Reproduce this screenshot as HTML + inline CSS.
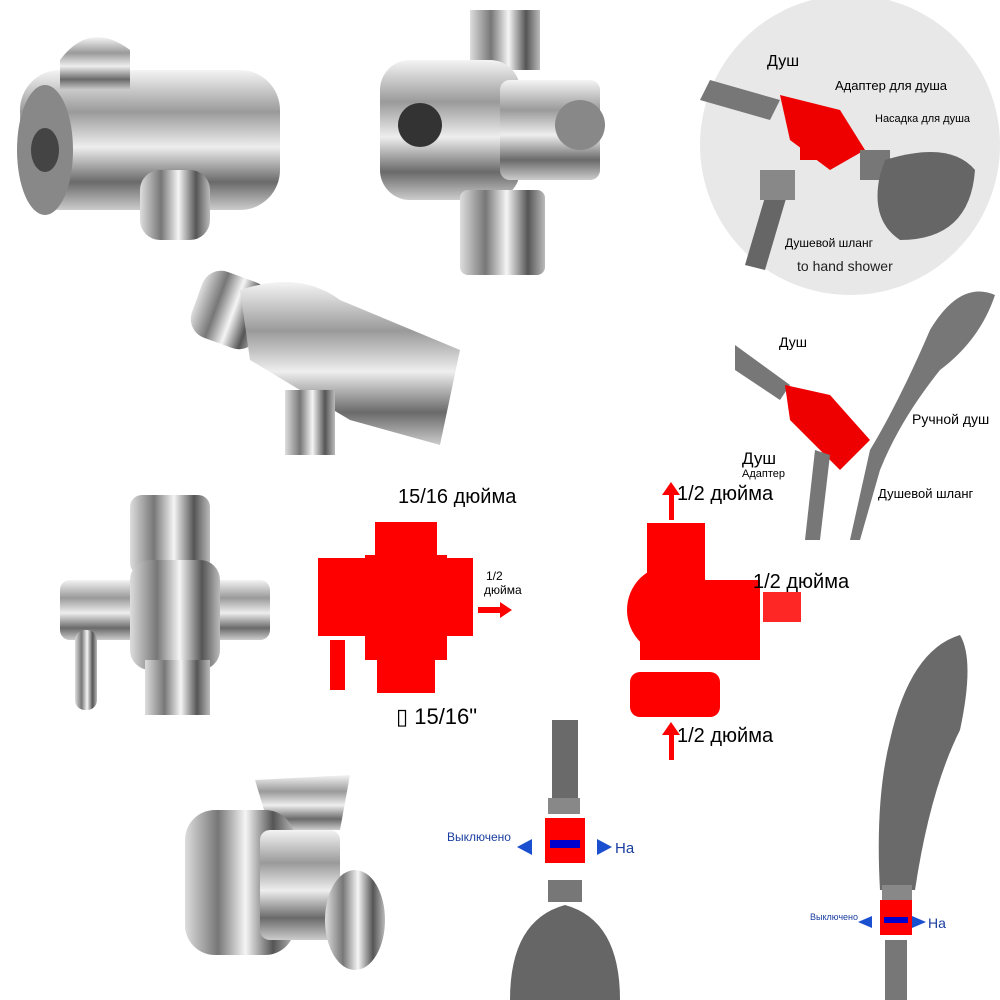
<!DOCTYPE html>
<html><head><meta charset="utf-8"><style>
html,body{margin:0;padding:0;background:#fff;width:1000px;height:1000px;overflow:hidden}
svg text{font-family:"Liberation Sans","DejaVu Sans",sans-serif}
</style></head><body>
<svg width="1000" height="1000" viewBox="0 0 1000 1000" xmlns="http://www.w3.org/2000/svg">
<defs>
<linearGradient id="ch" x1="0" y1="0" x2="0" y2="1"><stop offset="0" stop-color="#f4f4f4"/><stop offset="0.3" stop-color="#9a9a9a"/><stop offset="0.55" stop-color="#eee"/><stop offset="0.8" stop-color="#6a6a6a"/><stop offset="1" stop-color="#ccc"/></linearGradient>
<linearGradient id="chv" x1="0" y1="0" x2="1" y2="0"><stop offset="0" stop-color="#ddd"/><stop offset="0.3" stop-color="#777"/><stop offset="0.55" stop-color="#f5f5f5"/><stop offset="0.8" stop-color="#555"/><stop offset="1" stop-color="#bbb"/></linearGradient>
</defs>
<!-- top-left holder -->
<rect x="20" y="70" width="260" height="140" rx="40" fill="url(#ch)"/>
<ellipse cx="45" cy="150" rx="28" ry="65" fill="#888"/><ellipse cx="45" cy="150" rx="14" ry="22" fill="#444"/>
<path d="M60 60 Q90 20 130 50 L130 90 L60 90Z" fill="url(#ch)"/>
<rect x="140" y="170" width="70" height="70" rx="20" fill="url(#chv)"/>
<!-- top-middle tee -->
<rect x="470" y="10" width="70" height="60" fill="url(#chv)"/>
<rect x="380" y="60" width="140" height="140" rx="30" fill="url(#ch)"/>
<circle cx="420" cy="125" r="22" fill="#333"/>
<rect x="500" y="80" width="100" height="100" rx="10" fill="url(#ch)"/>
<circle cx="580" cy="125" r="25" fill="#888"/>
<rect x="460" y="190" width="85" height="85" rx="8" fill="url(#chv)"/>
<!-- top-right circle -->
<circle cx="850" cy="145" r="150" fill="#e8e8e8"/>
<path d="M710 80 L780 100 L770 120 L700 100Z" fill="#777"/>
<path d="M780 95 L840 110 L865 150 L830 170 L790 140Z" fill="#e00"/>
<rect x="800" y="120" width="40" height="40" fill="#e00"/>
<path d="M770 180 L745 265 L765 270 L790 185Z" fill="#666"/>
<rect x="760" y="170" width="35" height="30" fill="#888"/>
<rect x="860" y="150" width="30" height="30" fill="#777"/>
<path d="M885 160 Q950 140 975 170 Q970 240 900 240 Q870 220 880 175Z" fill="#666"/>
<text x="767" y="66" font-size="16">Душ</text>
<text x="835" y="90" font-size="13">Адаптер для душа</text>
<text x="875" y="122" font-size="11">Насадка для душа</text>
<text x="785" y="247" font-size="12">Душевой шланг</text>
<text x="797" y="271" font-size="14" fill="#222">to hand shower</text>
<!-- middle holder -->
<rect x="195" y="275" width="70" height="70" rx="20" fill="url(#chv)" transform="rotate(20 230 310)"/>
<path d="M240 290 Q300 270 340 300 L460 350 L440 445 L350 420 L250 360Z" fill="url(#ch)"/>
<rect x="285" y="390" width="50" height="65" fill="url(#chv)"/>
<!-- right top hand shower diagram -->
<path d="M735 345 L790 385 L780 400 L735 370Z" fill="#777"/>
<path d="M785 385 L830 395 L870 440 L840 470 L790 420Z" fill="#e00"/>
<path d="M815 450 L805 540 L820 540 L830 455Z" fill="#777"/>
<path d="M870 450 Q900 400 930 330 Q960 280 995 295 Q980 340 940 370 Q900 420 880 470 L860 540 L850 540Z" fill="#777"/>
<text x="779" y="347" font-size="14">Душ</text>
<text x="912" y="424" font-size="14">Ручной душ</text>
<text x="742" y="464" font-size="17">Душ</text>
<text x="742" y="477" font-size="11">Адаптер</text>
<text x="878" y="498" font-size="13">Душевой шланг</text>
<!-- left tee -->
<rect x="130" y="495" width="80" height="80" rx="12" fill="url(#chv)"/>
<rect x="60" y="580" width="210" height="60" rx="10" fill="url(#ch)"/>
<rect x="130" y="560" width="90" height="110" rx="20" fill="url(#chv)"/>
<rect x="145" y="660" width="65" height="55" fill="url(#chv)"/>
<rect x="75" y="630" width="22" height="80" rx="10" fill="url(#chv)"/>
<!-- red diagram 1 -->
<g fill="#f00">
<rect x="375" y="522" width="62" height="40"/>
<rect x="318" y="558" width="155" height="78"/>
<rect x="365" y="555" width="82" height="105"/>
<rect x="377" y="655" width="58" height="38"/>
<rect x="452" y="585" width="20" height="50"/>
<rect x="330" y="640" width="15" height="50"/>
<path d="M478 607 L500 607 L500 602 L512 610 L500 618 L500 613 L478 613Z"/>
</g>
<text x="398" y="503" font-size="20">15/16 дюйма</text>
<text x="486" y="580" font-size="12">1/2</text>
<text x="484" y="594" font-size="12">дюйма</text>
<text x="396" y="724" font-size="22">▯ 15/16"</text>
<!-- red diagram 2 -->
<g fill="#f00">
<rect x="647" y="523" width="58" height="62"/>
<rect x="640" y="580" width="120" height="80"/>
<circle cx="672" cy="610" r="45"/>
<rect x="630" y="672" width="90" height="45" rx="10"/>
<rect x="763" y="592" width="38" height="30" opacity="0.85"/>
<rect x="669" y="490" width="5" height="30"/><path d="M662 495 L671 482 L680 495Z"/>
<rect x="669" y="730" width="5" height="30"/><path d="M662 735 L671 722 L680 735Z"/>
</g>
<text x="677" y="500" font-size="20">1/2 дюйма</text>
<text x="753" y="588" font-size="20">1/2 дюйма</text>
<text x="677" y="742" font-size="20">1/2 дюйма</text>
<!-- valve -->
<path d="M255 780 L350 775 L340 830 L270 830Z" fill="url(#ch)"/>
<rect x="185" y="810" width="110" height="145" rx="30" fill="url(#chv)"/>
<rect x="260" y="830" width="80" height="110" rx="10" fill="url(#ch)"/>
<ellipse cx="355" cy="920" rx="30" ry="50" fill="url(#chv)"/>
<!-- shower head bottom middle -->
<rect x="552" y="720" width="26" height="90" fill="#6a6a6a"/>
<rect x="548" y="798" width="32" height="16" fill="#888"/>
<rect x="545" y="818" width="40" height="45" fill="#f00"/>
<rect x="550" y="840" width="30" height="8" fill="#00c"/>
<rect x="548" y="880" width="34" height="22" fill="#777"/>
<path d="M510 1000 Q510 920 565 905 Q620 920 620 1000Z" fill="#666"/>
<path d="M517 847 L532 839 L532 855Z M612 847 L597 839 L597 855Z" fill="#1a4fd0"/>
<text x="447" y="841" font-size="12" fill="#1a3ea0">Выключено</text>
<text x="615" y="853" font-size="15" fill="#1a3ea0">На</text>
<!-- hand shower bottom right -->
<path d="M880 890 Q875 800 890 740 Q910 650 960 635 Q975 660 960 730 Q930 790 915 890Z" fill="#6a6a6a"/>
<rect x="882" y="885" width="30" height="15" fill="#888"/>
<rect x="880" y="900" width="32" height="35" fill="#f00"/>
<rect x="884" y="917" width="24" height="6" fill="#00c"/>
<rect x="885" y="940" width="22" height="60" fill="#777"/>
<path d="M858 922 L872 916 L872 928Z M926 922 L912 916 L912 928Z" fill="#1a4fd0"/>
<text x="810" y="920" font-size="9" fill="#1a3ea0">Выключено</text>
<text x="928" y="928" font-size="14" fill="#1a3ea0">На</text>
</svg>
</body></html>
